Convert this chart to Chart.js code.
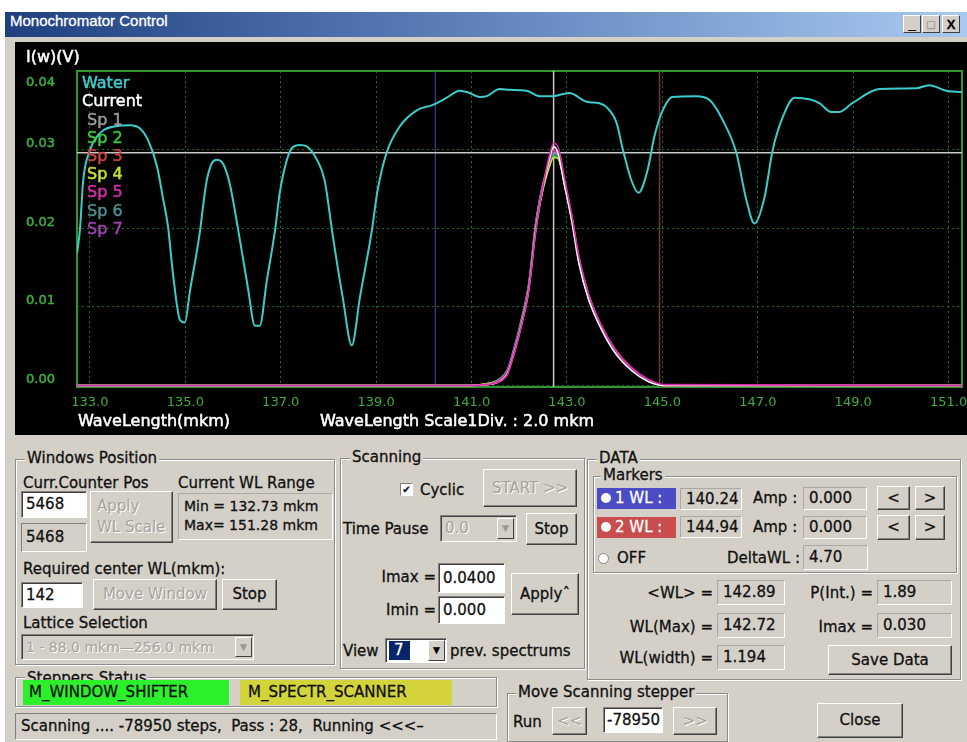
<!DOCTYPE html>
<html>
<head>
<meta charset="utf-8">
<script src="https://cdn.jsdelivr.net/npm/chart.js@4.4.1/dist/chart.umd.min.js"></script>
<style>
  body { margin: 0; width: 967px; height: 742px; background: #fff; position: relative; overflow: hidden;
         font-family: "DejaVu Sans", sans-serif; font-size: 15px; color: #111; -webkit-text-stroke: 0.3px; }
  .a { position: absolute; white-space: nowrap; }
  #win { left: 5px; top: 12px; width: 962px; height: 730px; background: #d4d0c8; }
  #title { left: 5px; top: 12px; width: 962px; height: 25px; line-height: 25px;
           background: linear-gradient(90deg, #1f3f7f, #5a7db8 45%, #a8caf0);
           color: #fff; font: 15px "Liberation Sans", sans-serif; padding-left: 5px; box-sizing: border-box; }
  .wb { top: 15px; width: 18px; height: 18px; background: #d4d0c8; border: 1px solid; border-color: #fff #404040 #404040 #fff;
        font: bold 13px "Liberation Sans", sans-serif; text-align: center; line-height: 17px; color: #000; box-sizing: border-box; }
  #plot { left: 15px; top: 42px; width: 952px; height: 393px; background: #000; -webkit-text-stroke: 0; }
  .grp { border: 1px solid #8c8c8c; box-shadow: inset 1px 1px 0 #fff, 1px 1px 0 #fff; box-sizing: border-box; }
  .gl { background: #d4d0c8; padding: 0 2px; line-height: 17px; }
  .btn { background: #d4d0c8; border: 1px solid; border-color: #fff #404040 #404040 #fff;
         box-shadow: inset -1px -1px 0 #808080; box-sizing: border-box; text-align: center; }
  .dis { color: #a6a39c; text-shadow: 1px 1px 0 #fff; -webkit-text-stroke: 0; }
  .edit { background: #fff; border: 1px solid; border-color: #808080 #fff #fff #808080;
          box-shadow: inset 1px 1px 0 #404040; box-sizing: border-box; padding-left: 4px; }
  .st { background: #d4d0c8; border: 1px solid; border-color: #a8a8a8 #fff #fff #a8a8a8; box-sizing: border-box; padding-left: 5px; }
  .arr { background: #d4d0c8; border: 1px solid; border-color: #fff #404040 #404040 #fff; box-sizing: border-box;
         font-size: 9px; text-align: center; color: #000; }
</style>
</head>
<body>
<div class="a" id="win"></div>
<div class="a" id="title">Monochromator Control</div>
<div class="a wb" style="left:903px">_</div>
<div class="a wb" style="left:922px;color:#999">□</div>
<div class="a wb" style="left:942px">X</div>

<div class="a" id="plot"><canvas id="chart" width="952" height="393"></canvas></div>

<!-- Windows Position -->
<div class="a grp" style="left:15px;top:459px;width:320px;height:206px"></div>
<div class="a gl" style="left:25px;top:450px">Windows Position</div>
<div class="a" style="left:23px;top:474px">Curr.Counter Pos</div>
<div class="a" style="left:178px;top:474px">Current WL Range</div>
<div class="a edit" style="left:21px;top:491px;width:66px;height:27px;line-height:25px">5468</div>
<div class="a btn dis" style="left:90px;top:491px;width:83px;height:52px;text-align:left;padding:4px 0 0 6px;line-height:21px">Apply<br>WL Scale</div>
<div class="a st" style="left:178px;top:493px;width:155px;height:47px;font-size:14px;line-height:19px;padding-top:3px">Min = 132.73 mkm<br>Max= 151.28 mkm</div>
<div class="a st" style="left:21px;top:523px;width:66px;height:29px;line-height:27px;padding-left:4px;border-color:#808080 #fff #fff #808080">5468</div>
<div class="a" style="left:23px;top:560px">Required center WL(mkm):</div>
<div class="a edit" style="left:21px;top:582px;width:62px;height:26px;line-height:24px">142</div>
<div class="a btn dis" style="left:93px;top:579px;width:124px;height:31px;line-height:29px">Move Window</div>
<div class="a btn" style="left:222px;top:579px;width:55px;height:31px;line-height:29px">Stop</div>
<div class="a" style="left:23px;top:614px">Lattice Selection</div>
<div class="a edit dis" style="left:21px;top:634px;width:233px;height:26px;line-height:24px;background:#d4d0c8;font-size:14px">1 - 88.0 mkm—256.0 mkm</div>
<div class="a arr" style="left:235px;top:637px;width:17px;height:20px;line-height:18px;color:#999">▼</div>

<!-- Steppers Status -->
<div class="a grp" style="left:15px;top:677px;width:482px;height:30px"></div>
<div class="a gl" style="left:25px;top:670px">Steppers Status</div>
<div class="a" style="left:23px;top:680px;width:206px;height:25px;line-height:25px;background:#2cf02c;padding-left:6px;box-sizing:border-box">M_WINDOW_SHIFTER</div>
<div class="a" style="left:240px;top:680px;width:212px;height:25px;line-height:25px;background:#d3d33c;padding-left:8px;box-sizing:border-box">M_SPECTR_SCANNER</div>
<div class="a st" style="left:15px;top:713px;width:482px;height:27px;line-height:25px;border-color:#808080 #fff #fff #808080">Scanning .... -78950 steps,&nbsp; Pass : 28,&nbsp; Running &lt;&lt;&lt;–</div>

<!-- Scanning -->
<div class="a grp" style="left:340px;top:458px;width:245px;height:211px"></div>
<div class="a gl" style="left:350px;top:449px">Scanning</div>
<div class="a" style="left:400px;top:483px;width:13px;height:13px;background:#fff;border:1px solid;border-color:#808080 #fff #fff #808080;box-sizing:border-box;font-size:10px;line-height:11px;text-align:center">✔</div>
<div class="a" style="left:420px;top:481px">Cyclic</div>
<div class="a btn dis" style="left:483px;top:469px;width:94px;height:38px;line-height:36px">START &gt;&gt;</div>
<div class="a" style="left:343px;top:520px">Time Pause</div>
<div class="a edit dis" style="left:440px;top:515px;width:77px;height:27px;line-height:25px;background:#d4d0c8">0.0</div>
<div class="a arr" style="left:497px;top:518px;width:17px;height:21px;line-height:19px;color:#999">▼</div>
<div class="a btn" style="left:526px;top:513px;width:51px;height:32px;line-height:30px">Stop</div>
<div class="a" style="left:373px;top:568px;width:63px;text-align:right">Imax =</div>
<div class="a edit" style="left:438px;top:563px;width:67px;height:30px;line-height:28px">0.0400</div>
<div class="a" style="left:373px;top:601px;width:63px;text-align:right">Imin =</div>
<div class="a edit" style="left:438px;top:596px;width:67px;height:28px;line-height:26px">0.000</div>
<div class="a btn" style="left:511px;top:573px;width:68px;height:42px;line-height:40px">Applyˆ</div>
<div class="a" style="left:343px;top:642px">View</div>
<div class="a edit" style="left:385px;top:638px;width:62px;height:25px;padding-left:3px"></div>
<div class="a" style="left:389px;top:641px;width:21px;height:19px;line-height:19px;background:#0a246a;color:#fff;padding-left:5px;box-sizing:border-box">7</div>
<div class="a arr" style="left:428px;top:640px;width:17px;height:21px;line-height:19px">▼</div>
<div class="a" style="left:450px;top:642px">prev. spectrums</div>

<!-- Move Scanning stepper -->
<div class="a grp" style="left:507px;top:693px;width:221px;height:49px"></div>
<div class="a gl" style="left:516px;top:684px">Move Scanning stepper</div>
<div class="a" style="left:513px;top:713px">Run</div>
<div class="a btn dis" style="left:552px;top:707px;width:35px;height:28px;line-height:26px">&lt;&lt;</div>
<div class="a edit" style="left:603px;top:707px;width:60px;height:26px;line-height:24px;padding-left:3px">-78950</div>
<div class="a btn dis" style="left:673px;top:707px;width:44px;height:28px;line-height:26px">&gt;&gt;</div>
<div class="a btn" style="left:817px;top:703px;width:86px;height:35px;line-height:33px">Close</div>

<!-- DATA -->
<div class="a grp" style="left:587px;top:459px;width:374px;height:221px"></div>
<div class="a gl" style="left:597px;top:450px">DATA</div>
<div class="a grp" style="left:593px;top:476px;width:364px;height:97px"></div>
<div class="a gl" style="left:601px;top:467px">Markers</div>

<div class="a" style="left:597px;top:488px;width:79px;height:21px;background:#4b4bc6"></div>
<div class="a" style="left:601px;top:493px;width:10px;height:10px;border-radius:50%;background:#fff"></div>
<div class="a" style="left:615px;top:489px;color:#fff;line-height:19px">1 WL :</div>
<div class="a st" style="left:680px;top:488px;width:62px;height:22px;line-height:20px">140.24</div>
<div class="a" style="left:753px;top:489px">Amp :</div>
<div class="a st" style="left:803px;top:487px;width:64px;height:23px;line-height:21px">0.000</div>
<div class="a btn" style="left:877px;top:486px;width:33px;height:24px;line-height:22px">&lt;</div>
<div class="a btn" style="left:915px;top:486px;width:30px;height:24px;line-height:22px">&gt;</div>

<div class="a" style="left:597px;top:517px;width:79px;height:21px;background:#c94d4d"></div>
<div class="a" style="left:601px;top:522px;width:10px;height:10px;border-radius:50%;background:#fff"></div>
<div class="a" style="left:615px;top:518px;color:#fff;line-height:19px">2 WL :</div>
<div class="a st" style="left:680px;top:516px;width:62px;height:22px;line-height:20px">144.94</div>
<div class="a" style="left:753px;top:518px">Amp :</div>
<div class="a st" style="left:803px;top:516px;width:64px;height:23px;line-height:21px">0.000</div>
<div class="a btn" style="left:877px;top:515px;width:33px;height:25px;line-height:23px">&lt;</div>
<div class="a btn" style="left:915px;top:515px;width:30px;height:25px;line-height:23px">&gt;</div>

<div class="a" style="left:598px;top:553px;width:9px;height:9px;border-radius:50%;background:#fff;border:1px solid #888"></div>
<div class="a" style="left:617px;top:549px">OFF</div>
<div class="a" style="left:690px;top:549px;width:110px;text-align:right">DeltaWL :</div>
<div class="a st" style="left:803px;top:545px;width:65px;height:25px;line-height:23px">4.70</div>

<div class="a" style="left:610px;top:584px;width:103px;text-align:right">&lt;WL&gt; =</div>
<div class="a st" style="left:717px;top:580px;width:68px;height:25px;line-height:23px">142.89</div>
<div class="a" style="left:770px;top:584px;width:103px;text-align:right">P(Int.) =</div>
<div class="a st" style="left:877px;top:580px;width:75px;height:25px;line-height:23px">1.89</div>

<div class="a" style="left:600px;top:618px;width:113px;text-align:right">WL(Max) =</div>
<div class="a st" style="left:717px;top:613px;width:68px;height:25px;line-height:23px">142.72</div>
<div class="a" style="left:770px;top:618px;width:103px;text-align:right">Imax =</div>
<div class="a st" style="left:877px;top:613px;width:75px;height:25px;line-height:23px">0.030</div>

<div class="a" style="left:600px;top:649px;width:113px;text-align:right">WL(width) =</div>
<div class="a st" style="left:717px;top:645px;width:68px;height:25px;line-height:23px">1.194</div>
<div class="a btn" style="left:828px;top:645px;width:124px;height:30px;line-height:28px">Save Data</div>

<script>
// water absorption reference curve
const waterWL = [132.73, 132.79, 132.86, 133.00, 133.21, 133.57, 133.84, 134.05, 134.22, 134.41, 134.53, 134.64,
  134.74, 134.89, 134.99, 135.10, 135.31, 135.37, 135.45, 135.56, 135.66, 135.77, 135.93, 136.10, 136.31,
  136.46, 136.56, 136.71, 136.88, 136.98, 137.13, 137.25, 137.40, 137.55, 137.76, 137.92, 138.09, 138.30,
  138.49, 138.66, 138.91, 139.03, 139.22, 139.49, 139.85, 140.19, 140.48, 140.75, 140.92, 141.17, 141.32,
  141.59, 141.80, 142.15, 142.43, 142.70, 143.05, 143.41, 143.68, 143.83, 144.04, 144.16, 144.35, 144.50,
  144.69, 144.83, 144.98, 145.21, 145.71, 145.99, 146.26, 146.55, 146.76, 146.93, 147.14, 147.31, 147.52,
  147.77, 148.08, 148.29, 148.54, 148.71, 148.98, 149.55, 150.32, 150.59, 150.95, 151.28];
const waterI = [0.0168, 0.0197, 0.0261, 0.0299, 0.0321, 0.0330, 0.0331, 0.0327, 0.0312, 0.0278, 0.0239, 0.0201,
  0.0143, 0.0083, 0.0080, 0.0121, 0.0197, 0.0227, 0.0261, 0.0283, 0.0287, 0.0284, 0.0257, 0.0201, 0.0125,
  0.0076, 0.0076, 0.0134, 0.0197, 0.0245, 0.0287, 0.0303, 0.0306, 0.0304, 0.0287, 0.0261, 0.0191, 0.0112,
  0.0051, 0.0112, 0.0197, 0.0248, 0.0296, 0.0329, 0.0350, 0.0357, 0.0366, 0.0375, 0.0373, 0.0367, 0.0368,
  0.0377, 0.0376, 0.0375, 0.0368, 0.0368, 0.0372, 0.0361, 0.0359, 0.0354, 0.0334, 0.0303, 0.0261, 0.0245,
  0.0274, 0.0316, 0.0346, 0.0367, 0.0368, 0.0363, 0.0338, 0.0296, 0.0236, 0.0206, 0.0239, 0.0299, 0.0341,
  0.0366, 0.0364, 0.0359, 0.0348, 0.0348, 0.0359, 0.0377, 0.0378, 0.0382, 0.0375, 0.0373];

// scanned spectra (current + 7 previous)
const specWL = [132.73, 141.00, 141.30, 141.55, 141.75, 141.90, 142.05, 142.20, 142.35, 142.50, 142.62, 142.72,
  142.82, 142.95, 143.10, 143.25, 143.45, 143.70, 144.00, 144.35, 144.70, 145.05, 151.28];
const currentI = [0, 0, 0.0001, 0.0004, 0.0015, 0.0043, 0.0078, 0.0122, 0.0200, 0.0252, 0.0285, 0.0304,
  0.0294, 0.0255, 0.0210, 0.0156, 0.0110, 0.0074, 0.0042, 0.0019, 0.0005, 0, 0];
const sp1 = [0, 0, 0.0002, 0.0006, 0.0018, 0.0048, 0.0083, 0.0128, 0.0208, 0.0258, 0.0280, 0.0296,
  0.0291, 0.0259, 0.0215, 0.0161, 0.0114, 0.0077, 0.0044, 0.0021, 0.0007, 0, 0];
const sp2 = [0, 0, 0.0002, 0.0007, 0.0020, 0.0050, 0.0086, 0.0130, 0.0210, 0.0256, 0.0278, 0.0292,
  0.0289, 0.0254, 0.0209, 0.0155, 0.0111, 0.0076, 0.0045, 0.0022, 0.0006, 0, 0];
const sp3 = [0, 0, 0.0001, 0.0005, 0.0015, 0.0044, 0.0079, 0.0124, 0.0202, 0.0253, 0.0284, 0.0299,
  0.0298, 0.0260, 0.0214, 0.0160, 0.0113, 0.0074, 0.0043, 0.0020, 0.0006, 0, 0];
const sp4 = [0, 0, 0.0002, 0.0006, 0.0017, 0.0046, 0.0081, 0.0126, 0.0204, 0.0250, 0.0276, 0.0290,
  0.0288, 0.0256, 0.0213, 0.0162, 0.0116, 0.0078, 0.0046, 0.0022, 0.0007, 0, 0];
const sp5 = [0, 0, 0.0001, 0.0004, 0.0014, 0.0042, 0.0077, 0.0121, 0.0198, 0.0254, 0.0290, 0.0308,
  0.0302, 0.0263, 0.0217, 0.0164, 0.0117, 0.0079, 0.0047, 0.0023, 0.0008, 0.0001, 0];
const sp6 = [0, 0, 0.0001, 0.0005, 0.0016, 0.0047, 0.0084, 0.0127, 0.0203, 0.0251, 0.0279, 0.0294,
  0.0292, 0.0255, 0.0211, 0.0157, 0.0112, 0.0075, 0.0043, 0.0020, 0.0006, 0, 0];
const sp7 = [0, 0, 0.0001, 0.0006, 0.0019, 0.0049, 0.0082, 0.0129, 0.0206, 0.0257, 0.0283, 0.0298,
  0.0295, 0.0258, 0.0216, 0.0163, 0.0115, 0.0076, 0.0044, 0.0021, 0.0007, 0, 0];

// axes, markers and cursor
const xRange = [132.73, 151.28];
const yRange = [-0.0002, 0.04];
const xTicks = [133, 135, 137, 139, 141, 143, 145, 147, 149, 151];
const yTicks = [0, 0.01, 0.02, 0.03, 0.04];
const markerWL = [140.24, 144.94];
const cursorWL = 142.72;
const cursorI = 0.0296;

const pts = (xs, ys) => xs.map((x, i) => ({ x: x, y: ys[i] }));

function spec(label, ys, color, order) {
  return { label: label, data: pts(specWL, ys), borderColor: color, borderWidth: 1.6,
           pointRadius: 0, cubicInterpolationMode: "monotone", order: order, legend: true };
}
function guide(data, color, width, order) {
  return { data: data, borderColor: color, borderWidth: width, pointRadius: 0, order: order, legend: false };
}

const datasets = [
  spec("Sp 5", sp5, "#d82ca8", 1),
  spec("Current", currentI, "#ffffff", 2),
  spec("Sp 7", sp7, "#a040b0", 3),
  spec("Sp 3", sp3, "#d04040", 4),
  spec("Sp 4", sp4, "#c8e030", 5),
  spec("Sp 6", sp6, "#4a8c8c", 6),
  spec("Sp 2", sp2, "#3cc83c", 7),
  spec("Sp 1", sp1, "#9a9a9a", 8),
  { label: "Water", data: pts(waterWL, waterI), borderColor: "#3ccccc", borderWidth: 2, pointRadius: 0,
    cubicInterpolationMode: "monotone", order: 9, legend: true },
  guide([{ x: cursorWL, y: yRange[0] }, { x: cursorWL, y: yRange[1] }], "#c8c8c8", 1.5, 10),
  guide([{ x: xRange[0], y: cursorI }, { x: xRange[1], y: cursorI }], "#c8c8c8", 1.5, 10),
  guide([{ x: markerWL[0], y: yRange[0] }, { x: markerWL[0], y: yRange[1] }], "#4a4aa8", 1, 11),
  guide([{ x: markerWL[1], y: yRange[0] }, { x: markerWL[1], y: yRange[1] }], "#6e3a3a", 1.5, 11)
];

const legendOrder = ["Water", "Current", "Sp 1", "Sp 2", "Sp 3", "Sp 4", "Sp 5", "Sp 6", "Sp 7"];

function heavyText(ctx, txt, x, y) {
  ctx.fillText(txt, x, y);
  ctx.strokeText(txt, x, y);
}

const screenText = {
  id: "screenText",
  beforeDatasetsDraw(chart) {
    const a = chart.chartArea, ctx = chart.ctx;
    ctx.save();
    ctx.strokeStyle = "#2f972f";
    ctx.lineWidth = 2;
    ctx.strokeRect(a.left, a.top, a.right - a.left, a.bottom - a.top);
    ctx.restore();
  },
  afterDraw(chart) {
    const a = chart.chartArea, ctx = chart.ctx, y = chart.scales.y;
    ctx.save();
    ctx.textBaseline = "middle";
    ctx.lineWidth = 0.5;
    ctx.font = '13px "DejaVu Sans"';
    ctx.fillStyle = ctx.strokeStyle = "#3fae3f";
    yTicks.forEach(v => {
      const py = Math.max(y.getPixelForValue(v) - 6, a.top + 12);
      heavyText(ctx, v.toFixed(2), 11, py);
    });
    ctx.font = '16px "DejaVu Sans"';
    ctx.fillStyle = ctx.strokeStyle = "#ffffff";
    heavyText(ctx, "I(w)(V)", 11, 16);
    heavyText(ctx, "WaveLength(mkm)", 63, 380);
    heavyText(ctx, "WaveLength Scale1Div. : 2.0 mkm", 305, 380);
    legendOrder.forEach((name, i) => {
      const ds = chart.data.datasets.find(d => d.label === name);
      ctx.fillStyle = ctx.strokeStyle = ds.borderColor;
      heavyText(ctx, name, name.startsWith("Sp") ? a.left + 10 : a.left + 5, a.top + 13 + i * 18.2);
    });
    ctx.restore();
  }
};

new Chart(document.getElementById("chart"), {
  type: "line",
  data: { datasets: datasets },
  plugins: [screenText],
  options: {
    responsive: false,
    devicePixelRatio: 1,
    animation: false,
    events: [],
    layout: { padding: { top: 29, right: 5, bottom: 0, left: 0 } },
    plugins: { legend: { display: false }, tooltip: { enabled: false } },
    scales: {
      x: {
        type: "linear", min: xRange[0], max: xRange[1],
        afterBuildTicks: s => { s.ticks = xTicks.map(v => ({ value: v })); },
        afterFit: s => { s.height = 48; s.paddingLeft = 0; s.paddingRight = 0; },
        grid: { color: "#1f6e1f", lineWidth: 1, drawTicks: false },
        border: { display: false, dash: [2, 3] },
        ticks: { color: "#3fae3f", font: { family: "DejaVu Sans", size: 13 }, padding: 8,
                 maxRotation: 0, autoSkip: false, callback: v => Number(v).toFixed(1) }
      },
      y: {
        min: yRange[0], max: yRange[1],
        afterBuildTicks: s => { s.ticks = yTicks.map(v => ({ value: v })); },
        afterFit: s => { s.width = 62; },
        grid: { color: "#1f6e1f", lineWidth: 1, drawTicks: false },
        border: { display: false, dash: [2, 3] },
        ticks: { display: false }
      }
    }
  }
});
</script>
</body>
</html>
